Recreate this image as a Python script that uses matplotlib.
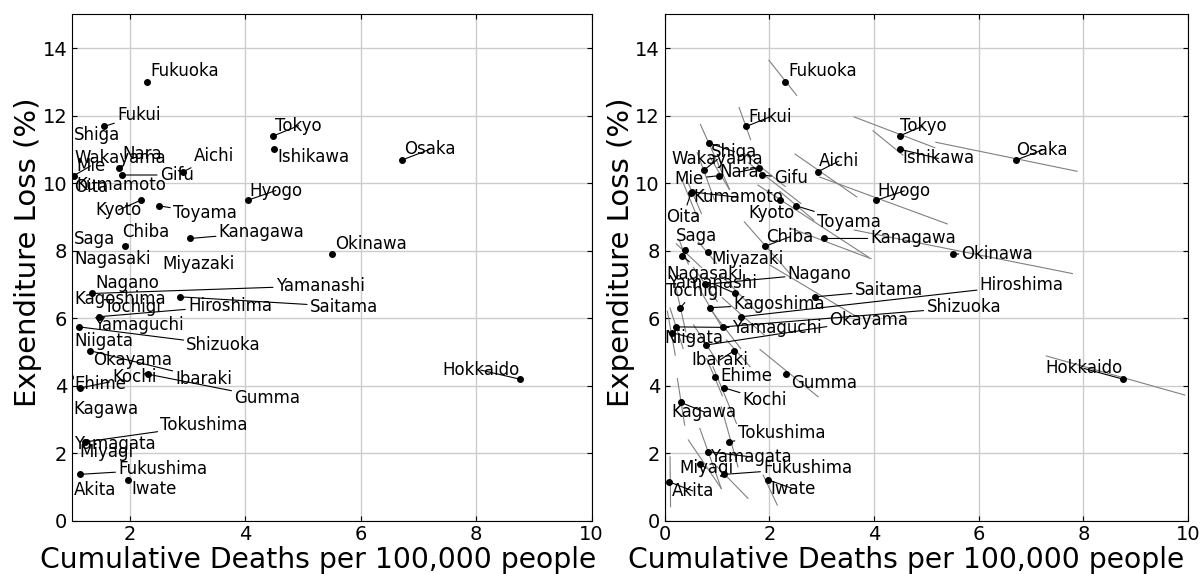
import numpy as np
import matplotlib
matplotlib.use('Agg')
import matplotlib.pyplot as plt

# Prefecture data
names = ['Fukuoka', 'Fukui', 'Shiga', 'Wakayama', 'Nara', 'Mie', 'Gifu', 'Aichi',
         'Tokyo', 'Ishikawa', 'Osaka', 'Kumamoto', 'Oita', 'Kyoto', 'Toyama',
         'Hyogo', 'Chiba', 'Kanagawa', 'Okinawa', 'Saga', 'Nagasaki', 'Miyazaki',
         'Nagano', 'Yamanashi', 'Tochigi', 'Kagoshima', 'Hiroshima', 'Saitama',
         'Yamaguchi', 'Shizuoka', 'Niigata', 'Okayama', 'Ibaraki', 'Ehime',
         'Kochi', 'Gumma', 'Kagawa', 'Tokushima', 'Yamagata', 'Miyagi',
         'Fukushima', 'Iwate', 'Akita', 'Hokkaido']
deaths = [2.30, 1.56, 0.84, 0.75, 1.81, 1.03, 1.86, 2.93,
          4.49, 4.50, 6.71, 0.52, 0.50, 2.20, 2.50,
          4.04, 1.92, 3.05, 5.51, 0.38, 0.32, 0.83,
          0.76, 1.35, 0.30, 0.86, 1.46, 2.87,
          0.21, 1.12, 0.13, 0.78, 1.32, 0.96,
          1.14, 2.31, 0.31, 1.22, 0.83, 0.68,
          1.13, 1.97, 0.08, 8.76]
loss = [13.01, 11.68, 11.19, 10.39, 10.46, 10.22, 10.24, 10.34,
        11.40, 11.00, 10.68, 9.74, 9.70, 9.50, 9.33,
        9.49, 8.13, 8.36, 7.90, 8.01, 7.85, 7.95,
        7.00, 6.73, 6.31, 6.31, 6.04, 6.63,
        5.74, 5.74, 5.57, 5.20, 5.03, 4.26,
        3.93, 4.34, 3.50, 2.33, 2.04, 1.69,
        1.37, 1.21, 1.15, 4.19]

# grey segments in the right panel (x0, y0, x1, y1)
seg_x0 = [1.99, 1.42, 0.68, 0.62, 1.50, 0.86, 1.60, 2.49,
          3.62, 3.98, 5.18, 0.42, 0.30, 1.78, 2.20,
          2.96, 1.52, 2.39, 3.62, 0.28, 0.22, 0.64,
          0.55, 1.05, 0.20, 0.65, 1.10, 2.01,
          0.10, 0.85, 0.05, 0.55, 1.18, 0.80,
          0.92, 1.82, 0.24, 1.08, 0.67, 0.45,
          1.00, 1.88, 0.10, 7.29]
seg_y0 = [13.64, 12.24, 11.74, 10.90, 10.90, 10.78, 10.60, 10.86,
          11.96, 11.55, 11.21, 10.10, 10.20, 9.94, 9.75,
          10.18, 8.85, 8.67, 8.61, 8.30, 8.20, 8.26,
          7.50, 7.30, 7.00, 6.90, 6.60, 7.57,
          6.30, 6.30, 6.20, 5.80, 5.35, 4.80,
          4.56, 5.07, 4.21, 3.37, 2.73, 2.39,
          1.60, 1.35, 1.89, 4.88]
seg_x1 = [2.52, 1.64, 1.24, 0.95, 2.30, 1.23, 2.60, 3.67,
          5.16, 4.55, 7.88, 0.70, 0.62, 3.90, 2.85,
          5.40, 2.39, 3.94, 7.79, 0.45, 0.70, 0.99,
          1.00, 1.75, 0.40, 1.10, 1.90, 3.67,
          0.35, 1.45, 0.20, 1.05, 1.63, 1.10,
          1.37, 2.93, 0.38, 1.40, 1.08, 1.08,
          1.59, 2.15, 0.11, 9.94]
seg_y1 = [12.60, 11.29, 9.81, 9.50, 9.90, 9.82, 9.40, 9.59,
          11.05, 10.83, 10.35, 9.10, 9.00, 7.80, 8.90,
          8.79, 7.32, 7.76, 7.32, 7.60, 7.50, 7.62,
          6.50, 6.20, 5.60, 5.70, 5.50, 6.04,
          5.10, 5.10, 4.90, 4.60, 4.56, 3.70,
          2.88, 3.67, 2.83, 1.59, 0.95, 0.95,
          0.66, 0.46, 0.41, 3.72]

# label positions (left edge, vertical centre) for each panel
left_lx = [2.36, 1.78, 1.04, 1.04, 1.87, 1.07, 2.52, 3.11,
           4.52, 4.55, 6.75, 1.07, 1.04, 1.40, 2.75,
           4.07, 1.87, 3.54, 5.56, 1.04, 1.04, 2.57,
           1.40, 4.53, 1.55, 1.04, 3.01, 5.12,
           1.38, 2.98, 1.04, 1.36, 2.79, 1.04,
           1.70, 3.81, 1.03, 2.53, 1.04, 1.13,
           1.80, 2.02, 1.03, 7.41]
left_ly = [13.32, 12.01, 11.42, 10.73, 10.86, 10.51, 10.24, 10.80,
           11.70, 10.76, 11.00, 9.94, 9.89, 9.20, 9.10,
           9.78, 8.54, 8.54, 8.21, 8.33, 7.75, 7.60,
           7.03, 6.96, 6.34, 6.58, 6.37, 6.34,
           5.81, 5.20, 5.32, 4.76, 4.21, 4.04,
           4.26, 3.64, 3.30, 2.83, 2.26, 2.04,
           1.52, 0.94, 0.92, 4.46]
right_lx = [2.36, 1.59, 0.89, 0.13, 1.05, 0.19, 2.09, 2.94,
            4.49, 4.54, 6.72, 0.54, 0.02, 1.59, 2.91,
            4.07, 1.94, 3.93, 5.67, 0.21, 0.03, 0.89,
            2.35, 0.06, 0.03, 1.31, 6.02, 3.63,
            1.28, 5.00, 0.00, 3.15, 0.51, 1.06,
            1.49, 2.41, 0.13, 1.39, 0.86, 0.27,
            1.88, 2.01, 0.13, 7.27]
right_ly = [13.32, 11.96, 10.93, 10.70, 10.33, 10.12, 10.14, 10.65,
            11.69, 10.73, 10.98, 9.58, 9.00, 9.10, 8.85,
            9.77, 8.41, 8.36, 7.89, 8.44, 7.32, 7.74,
            7.32, 7.03, 6.81, 6.41, 6.98, 6.83,
            5.71, 6.32, 5.40, 5.94, 4.76, 4.28,
            3.57, 4.08, 3.22, 2.61, 1.89, 1.55,
            1.55, 0.95, 0.88, 4.51]


def draw_panel(ax, xmin, lx, ly, xlab_pos, segments=False):
    ax.set_xlim(xmin, 10)
    ax.set_ylim(0, 15)
    ax.set_xticks([2, 4, 6, 8, 10] if xmin > 0 else [0, 2, 4, 6, 8, 10])
    ax.set_yticks(np.arange(0, 15, 2))
    ax.grid(True, color='#cccccc', lw=1)
    ax.set_axisbelow(True)
    ax.tick_params(direction='in', top=True, right=True, labelsize=14)
    if segments:
        for i in range(len(names)):
            ax.plot([seg_x0[i], seg_x1[i]], [seg_y0[i], seg_y1[i]],
                    color='grey', lw=0.8, zorder=2)
    ax.scatter(deaths, loss, s=16, color='black', zorder=3)
    for i, name in enumerate(names):
        if deaths[i] >= xmin:
            ax.annotate(name, (deaths[i], loss[i]), xytext=(lx[i], ly[i]),
                        fontsize=12, va='center', ha='left',
                        arrowprops=dict(arrowstyle='-', color='black', lw=0.8,
                                        shrinkA=0, shrinkB=2), zorder=4)
        else:
            ax.text(lx[i], ly[i], name, fontsize=12, va='center',
                    ha='left', zorder=4)
    ax.set_xlabel('Cumulative Deaths per 100,000 people', fontsize=20.3)
    ax.set_ylabel('Expenditure Loss (%)', fontsize=21)
    ax.xaxis.set_label_coords(xlab_pos, -0.05)
    ax.yaxis.set_label_coords(-0.057, 0.53)


fig = plt.figure(figsize=(12, 5.74), dpi=100)
ax1 = fig.add_axes([0.06, 0.093, 0.433, 0.882])
ax2 = fig.add_axes([0.554, 0.093, 0.436, 0.882])
draw_panel(ax1, 1, left_lx, left_ly, 0.473)
draw_panel(ax2, 0, right_lx, right_ly, 0.461, segments=True)

fig.savefig('out.png', dpi=100)
